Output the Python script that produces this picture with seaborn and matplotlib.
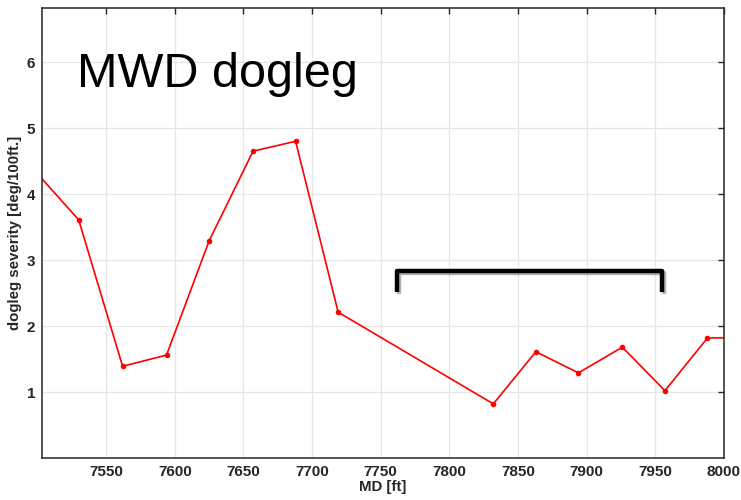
import numpy as np
import pandas as pd
import seaborn as sns
import matplotlib.pyplot as plt
import matplotlib.patheffects as pe

# данные
md = [7499, 7530, 7562, 7594, 7625, 7657, 7688, 7719, 7832, 7863, 7894, 7926, 7957, 7988, 8020]
dls = [4.33, 3.61, 1.39, 1.56, 3.29, 4.65, 4.80, 2.21, 0.82, 1.61, 1.29, 1.68, 1.02, 1.82, 1.82]
xticks = [7550, 7600, 7650, 7700, 7750, 7800, 7850, 7900, 7950, 8000]
yticks = [1, 2, 3, 4, 5, 6]
# скобка-аннотация (x, y)
bracket_x = [7762, 7762, 7955, 7955]
bracket_y = [2.52, 2.84, 2.84, 2.52]

df = pd.DataFrame({'MD': md, 'DLS': dls})

sns.set_style('whitegrid')
plt.rcParams['font.family'] = ['Liberation Sans', 'DejaVu Sans']

fig = plt.figure(figsize=(7.41, 5.0), dpi=100)
ax = fig.add_axes([0.0567, 0.084, 0.9203, 0.900])

sns.lineplot(data=df, x='MD', y='DLS', ax=ax, color='red', lw=1.2,
             marker='o', markersize=4, markeredgewidth=0, sort=False)

ax.set_xlim(7503.3, 8000)
ax.set_ylim(0, 6.82)
ax.set_xticks(xticks)
ax.set_yticks(yticks)
ax.grid(True, color='#e6e6e6', lw=0.9)
ax.tick_params(direction='in', length=4, width=1, color='#262626',
               top=True, right=True, labelsize=11, labelcolor='#262626', pad=5)
for lab in ax.get_xticklabels() + ax.get_yticklabels():
    lab.set_fontweight('bold')
for s in ax.spines.values():
    s.set_color('#262626')
    s.set_linewidth(1.1)

ax.set_xlabel('MD [ft]', fontsize=10.8, fontweight='bold', color='#262626', labelpad=1)
ax.set_ylabel('dogleg severity [deg/100ft.]', fontsize=10.8, fontweight='bold', color='#262626', labelpad=3)

ax.text(0.051, 0.824, 'MWD dogleg', transform=ax.transAxes, fontsize=35,
        color='black', ha='left', va='baseline')

ax.plot(bracket_x, bracket_y, color='black', lw=3.2, solid_joinstyle='round',
        solid_capstyle='butt',
        path_effects=[pe.SimpleLineShadow(offset=(1.5, -1.5), shadow_color='black', alpha=0.3), pe.Normal()])

plt.savefig('out.png', dpi=100)
